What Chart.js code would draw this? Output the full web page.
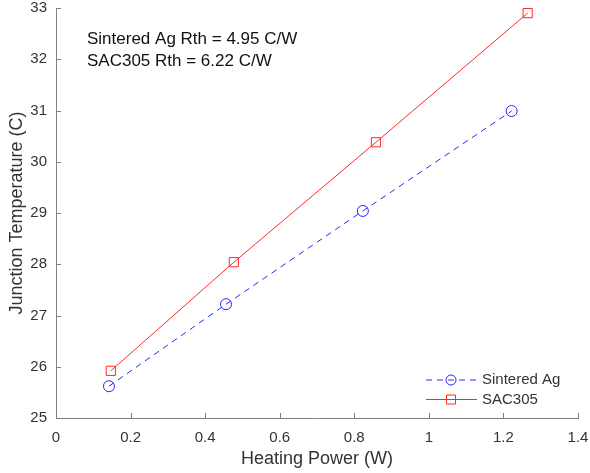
<!DOCTYPE html>
<html lang="en">
<head>
    <meta charset="UTF-8">
    <title>Junction Temperature vs Heating Power</title>
    <script src="https://cdn.jsdelivr.net/npm/chart.js"></script>
    <style>
    body, html {
        margin: 0;
        padding: 0;
        background: white;
        overflow: hidden;
    }
    #chart-container {
        width: 590px;
        height: 473px;
    }
    </style>
</head>
<body>
<div id="chart-container">
    <canvas id="rth"></canvas>
</div>
<script>
    // values
    const agPower = [0.142, 0.456, 0.823, 1.222];
    const agTemp = [25.62, 27.22, 29.04, 30.99];
    const sacPower = [0.147, 0.477, 0.858, 1.265];
    const sacTemp = [25.92, 28.04, 30.38, 32.90];
    const xTicks = [0, 0.2, 0.4, 0.6, 0.8, 1, 1.2, 1.4];
    const yTicks = [25, 26, 27, 28, 29, 30, 31, 32, 33];
    const notes = ['Sintered Ag Rth = 4.95 C/W', 'SAC305 Rth = 6.22 C/W'];

    const BLUE = 'rgb(40,40,255)';
    const RED = 'rgb(255,40,40)';
    const AXIS = '#808080';
    const TEXT = '#333333';
    const FONT = '"Liberation Sans", Arial, sans-serif';

    const toPoints = (xs, ys) => xs.map((x, i) => ({ x: x, y: ys[i] }));

    // inward ticks, annotation text and an inside legend
    const extras = {
        id: 'extras',
        afterDraw(chart) {
            const ctx = chart.ctx;
            const xs = chart.scales.x, ys = chart.scales.y;
            const area = chart.chartArea;
            ctx.save();
            ctx.strokeStyle = AXIS;
            ctx.lineWidth = 1;
            ctx.beginPath();
            xTicks.forEach(v => {
                const px = Math.round(xs.getPixelForValue(v)) + 0.5;
                ctx.moveTo(px, area.bottom);
                ctx.lineTo(px, area.bottom - 5);
            });
            yTicks.forEach(v => {
                const py = Math.round(ys.getPixelForValue(v)) + 0.5;
                ctx.moveTo(area.left, py);
                ctx.lineTo(area.left + 5, py);
            });
            ctx.stroke();

            ctx.fillStyle = '#111';
            ctx.font = '17px ' + FONT;
            ctx.textBaseline = 'middle';
            ctx.fillText(notes[0], 87, 39);
            ctx.fillText(notes[1], 87, 61);

            // legend
            const items = [
                { label: 'Sintered Ag', color: BLUE, dash: [6, 5], style: 'circle' },
                { label: 'SAC305', color: RED, dash: [], style: 'rect' }
            ];
            ctx.font = '15px ' + FONT;
            items.forEach((it, i) => {
                const y = 380 + i * 19.5;
                ctx.strokeStyle = it.color;
                ctx.setLineDash(it.dash);
                ctx.beginPath();
                ctx.moveTo(426, y);
                ctx.lineTo(477, y);
                ctx.stroke();
                ctx.setLineDash([]);
                ctx.beginPath();
                if (it.style === 'circle') {
                    ctx.arc(451, y, 5, 0, Math.PI * 2);
                } else {
                    ctx.rect(446.5, y - 4.5, 9, 9);
                }
                ctx.stroke();
                ctx.fillStyle = TEXT;
                ctx.fillText(it.label, 482, y);
            });
            ctx.restore();
        }
    };

    const ctx = document.getElementById('rth').getContext('2d');
    window.rthChart = new Chart(ctx, {
        type: 'line',
        data: {
            datasets: [
                {
                    label: 'Sintered Ag',
                    data: toPoints(agPower, agTemp),
                    borderColor: BLUE,
                    borderWidth: 1,
                    borderDash: [6, 5],
                    pointStyle: 'circle',
                    pointRadius: 5.5,
                    pointBorderWidth: 1,
                    pointBackgroundColor: 'transparent',
                    pointBorderColor: BLUE,
                    fill: false
                },
                {
                    label: 'SAC305',
                    data: toPoints(sacPower, sacTemp),
                    borderColor: RED,
                    borderWidth: 1,
                    pointStyle: 'rect',
                    pointRadius: 6.5,
                    pointBorderWidth: 1,
                    pointBackgroundColor: 'transparent',
                    pointBorderColor: RED,
                    fill: false
                }
            ]
        },
        options: {
            responsive: true,
            maintainAspectRatio: false,
            animation: false,
            layout: { padding: { top: 8, right: 12, left: 0, bottom: 0 } },
            plugins: {
                legend: { display: false },
                tooltip: { enabled: false }
            },
            scales: {
                x: {
                    type: 'linear',
                    min: 0,
                    max: 1.4,
                    afterBuildTicks: s => { s.ticks = xTicks.map(v => ({ value: v })); },
                    afterFit: s => { s.height = 55; s.paddingLeft = 0; s.paddingRight = 0; },
                    grid: { display: false, drawTicks: false },
                    border: { display: true, color: AXIS, width: 1 },
                    ticks: {
                        color: TEXT,
                        padding: 11,
                        maxRotation: 0,
                        font: { family: FONT, size: 15 },
                        callback: v => String(Math.round(v * 10) / 10)
                    },
                    title: {
                        display: true,
                        text: 'Heating Power (W)',
                        color: TEXT,
                        padding: { top: 0, bottom: 3 },
                        font: { family: FONT, size: 18 }
                    }
                },
                y: {
                    min: 25,
                    max: 33,
                    afterBuildTicks: s => { s.ticks = yTicks.map(v => ({ value: v })); },
                    afterFit: s => { s.width = 56; s.paddingTop = 0; s.paddingBottom = 0; },
                    grid: { display: false, drawTicks: false },
                    border: { display: true, color: AXIS, width: 1 },
                    ticks: {
                        color: TEXT,
                        padding: 9,
                        font: { family: FONT, size: 15 }
                    },
                    title: {
                        display: true,
                        text: 'Junction Temperature (C)',
                        color: TEXT,
                        padding: { top: 6, bottom: 0 },
                        font: { family: FONT, size: 18 }
                    }
                }
            }
        },
        plugins: [extras]
    });
</script>
</body>
</html>
